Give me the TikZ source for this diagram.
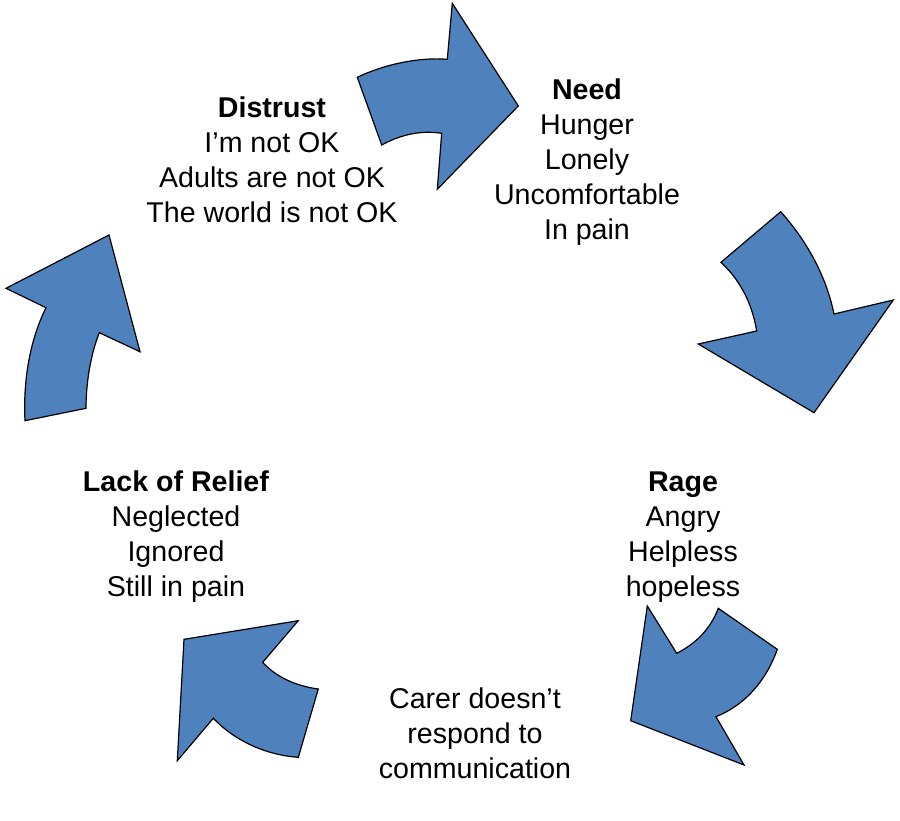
\documentclass[tikz,border=0pt]{standalone}
\usepackage{fontspec}
\setmainfont{Liberation Sans}
\begin{document}
\begin{tikzpicture}[x=1pt,y=-1pt,
  arrowshape/.style={fill=arrowblue,draw=black,line width=1.2pt,line join=miter},
  lbl/.style={align=center,font=\fontsize{28.6}{35}\selectfont,inner sep=0pt}]
\definecolor{arrowblue}{HTML}{4F81BD}
\useasboundingbox[fill=white] (0,0) rectangle (900,820);
% top arrow
\draw[arrowshape] (357.3,77.3) .. controls (385,64) and (420,57) .. (447.3,59.3)
  -- (452.3,3.3) -- (518.3,106) -- (437.3,189.3) -- (441.7,133.3)
  .. controls (420,130) and (400,135) .. (381.7,145) -- cycle;
% right arrow
\draw[arrowshape] (780.7,211.7) .. controls (806,240) and (826,275) .. (834,314)
  -- (893.3,300) -- (814,412.7) -- (698.3,344) -- (756.7,331)
  .. controls (752,303) and (740,280) .. (721,262.3) -- cycle;
% lower right arrow
\draw[arrowshape] (647.3,606) -- (676.7,653.3)
  .. controls (695,644) and (710,630) .. (718.3,608.3)
  -- (777.3,649.3) .. controls (766,681) and (745,705) .. (716,716.7)
  -- (744,765) -- (630.7,720.7) -- cycle;
% bottom left arrow
\draw[arrowshape] (184,639.3) -- (298.3,620.7) -- (262.7,662.3)
  .. controls (276,677) and (296,686) .. (318.3,689)
  -- (298.3,757.3) .. controls (266,755) and (235,741) .. (213.3,718.3)
  -- (177.3,760.7) -- cycle;
% left arrow
\draw[arrowshape] (6,288.3) -- (109,235) -- (140,351.7) -- (99.3,332.7)
  .. controls (90,356) and (86,385) .. (86,408.3)
  -- (25,420.7) .. controls (23,380) and (30,340) .. (46,307.7) -- cycle;
% labels
\node[lbl] (distrust) at (272,160) {\textbf{Distrust}\\I’m not OK\\Adults are not OK\\The world is not OK};
\node[lbl] (need) at (587,162) {\textbf{Need}\\Hunger\\Lonely\\Uncomfortable\\In pain};
\node[lbl] (rage) at (683,537) {\textbf{Rage}\\Angry\\Helpless\\hopeless};
\node[lbl] (carer) at (475,733) {Carer doesn’t\\respond to\\communication};
\node[lbl] (lack) at (176,537) {\textbf{Lack of Relief}\\Neglected\\Ignored\\Still in pain};
\end{tikzpicture}
\end{document}
